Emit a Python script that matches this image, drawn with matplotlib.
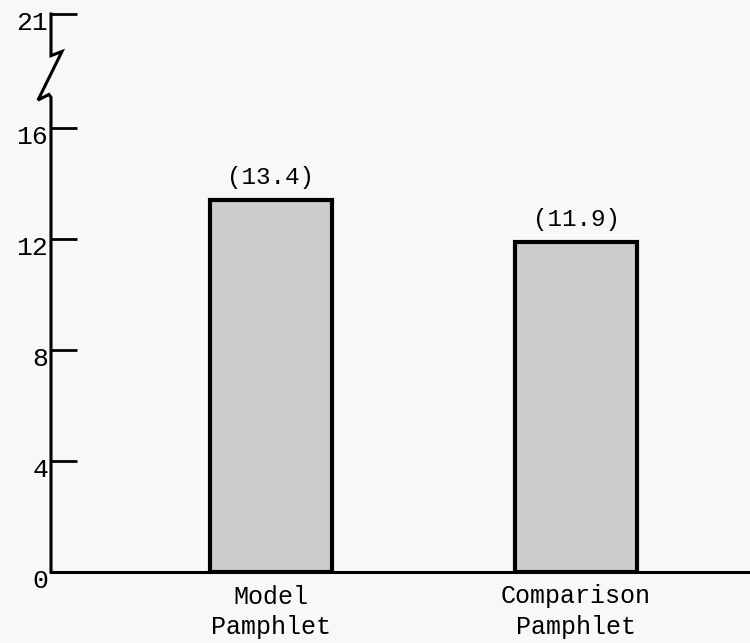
import matplotlib.pyplot as plt
import matplotlib.transforms as mtransforms

# data
groups = ['Model\nPamphlet', 'Comparison\nPamphlet']
scores = [13.4, 11.9]
score_labels = ['(13.4)', '(11.9)']
ytick_vals = [0, 4, 8, 12, 16, 20.1]   # top tick sits past the axis break
ytick_text = ['0', '4', '8', '12', '16', '21']

plt.rcParams['font.family'] = ['Liberation Mono', 'DejaVu Sans Mono']

fig = plt.figure(figsize=(7.5, 6.43), dpi=100, facecolor='#f8f8f6')
ax = fig.add_axes([51 / 750, 71 / 643, 699 / 750, 558 / 643])
ax.set_facecolor('#f8f8f6')

xpos = list(range(len(groups)))
bars = ax.bar(xpos, scores, width=0.4, color='#cdcdcd',
              edgecolor='black', linewidth=3, zorder=3)

for b, lab in zip(bars, score_labels):
    ax.annotate(lab, (b.get_x() + b.get_width() / 2, b.get_height()),
                xytext=(0, 8), textcoords='offset points',
                ha='center', va='bottom', fontsize=17.5)

ax.set_xlim(-0.721, 1.570)
ax.set_ylim(0, 20.1)

ax.set_xticks(xpos)
ax.set_xticklabels(groups, fontsize=18, linespacing=1.35)
ax.tick_params(axis='x', length=0, pad=9)

ax.set_yticks(ytick_vals)
ax.set_yticklabels(ytick_text, fontsize=19)
ax.tick_params(axis='y', direction='in', length=19, width=2, pad=2)
shift = mtransforms.ScaledTranslation(0, -5 / 72, fig.dpi_scale_trans)
for t in ax.get_yticklabels():
    t.set_transform(t.get_transform() + shift)

for s in ['top', 'right', 'left']:
    ax.spines[s].set_visible(False)
ax.spines['bottom'].set_linewidth(2.2)

# y axis drawn by hand with the zigzag break between 16 and 21
trans = mtransforms.blended_transform_factory(ax.transAxes, ax.transData)
zx = [0, 0, 0.0157, -0.0186, -0.003, 0, 0]
zy = [20.1, 18.6, 18.75, 17.0, 17.2, 17.1, 0]
ax.plot(zx, zy, color='black', lw=2.2, transform=trans, clip_on=False,
        solid_joinstyle='miter', zorder=4)

fig.savefig('out.png', dpi=100, facecolor=fig.get_facecolor())
